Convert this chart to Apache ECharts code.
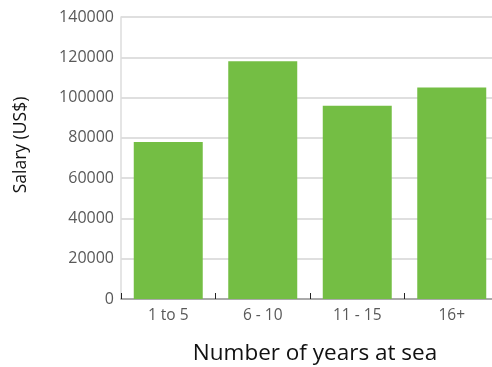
<!DOCTYPE html>
<html><head><meta charset="utf-8">
<script src="https://cdn.jsdelivr.net/npm/echarts@6/dist/echarts.min.js"></script>
<style>html,body{margin:0;padding:0;background:#fff;overflow:hidden;width:492px;height:367px}#c{width:499px;height:367px}</style>
</head><body><div id="c"></div>
<script>
const categories = ['1 to 5', '6 - 10', '11 - 15', '16+'];
const salaries = [78000, 118000, 96000, 105000];
const yTicks = [0, 20000, 40000, 60000, 80000, 100000, 120000, 140000];
const yTitle = 'Salary (US$)';
const xTitle = 'Number of years at sea';

const chart = echarts.init(document.getElementById('c'), null, {renderer: 'canvas'});
const font = '"Open Sans", "Noto Sans", sans-serif';
chart.setOption({
  animation: false,
  grid: {left: 121, top: 17, bottom: 68, right: 0, containLabel: false},
  xAxis: {
    type: 'category', data: categories,
    axisLine: {lineStyle: {color: '#999', width: 1.5}},
    axisTick: {show: true, inside: true, length: 6, lineStyle: {color: '#222', width: 1}},
    axisLabel: {color: '#595959', fontFamily: font, fontSize: 15.5, margin: 9}
  },
  yAxis: {
    type: 'value', min: yTicks[0], max: yTicks[yTicks.length - 1], interval: yTicks[1] - yTicks[0],
    axisLine: {show: true, lineStyle: {color: '#dcdcdc', width: 1.5}},
    axisTick: {show: false},
    splitLine: {lineStyle: {color: '#d4d4d4', width: 1.5}},
    axisLabel: {color: '#595959', fontFamily: font, fontSize: 16, margin: 7,
      formatter: function (v) { return String(v); }}
  },
  graphic: [
    {type: 'text', x: 21, y: 145, rotation: Math.PI / 2,
     style: {text: yTitle, font: '17.5px ' + font, fill: '#111', align: 'center', verticalAlign: 'middle'}},
    {type: 'text', x: 315, y: 354,
     style: {text: xTitle, font: '22.5px ' + font, fill: '#111', align: 'center', verticalAlign: 'middle'}}
  ],
  series: [{
    type: 'bar', data: salaries, barCategoryGap: '27%',
    itemStyle: {color: '#74BE44'}
  }]
});
</script></body></html>
